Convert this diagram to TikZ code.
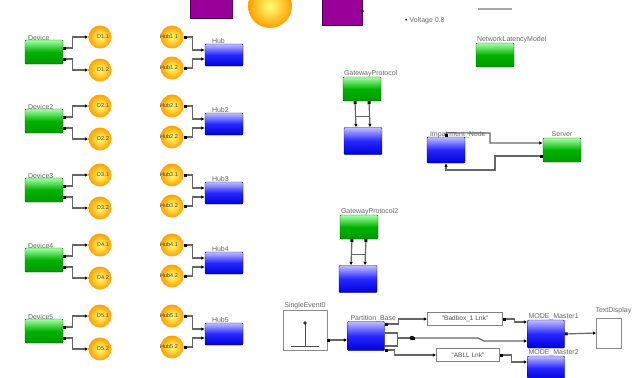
\documentclass[tikz,border=0pt]{standalone}
\usepackage{fontspec}
\setmainfont{Liberation Sans}
\usetikzlibrary{arrows.meta,positioning}
\tikzset{
  greenblk/.style={draw=green!35!black, rounded corners=1pt, top color=green!35!white, bottom color=green!60!black, middle color=green!70!black, minimum width=38pt, minimum height=24pt, inner sep=0pt},
  blueblk/.style={draw=blue!45!black, rounded corners=1pt, top color=blue!25!white, bottom color=blue!85!black, middle color=blue!85, minimum width=38pt, minimum height=22pt, inner sep=0pt},
  purpblk/.style={draw=violet!60!black, fill=violet!80!magenta, inner sep=0pt},
  ballnode/.style={circle, minimum size=23pt, inner sep=0pt, shading=radial, inner color=yellow!55!white, outer color=orange!75!yellow, draw=none},
  whitebox/.style={draw=black!45, fill=white, inner sep=0pt},
  strbox/.style={draw=black!50, fill=white, minimum height=13pt, inner sep=1pt, font=\fontsize{6.5}{7}\selectfont, text=black!70},
  lbl/.style={font=\fontsize{7}{8}\selectfont, text=black!60, inner sep=1pt},
  blbl/.style={font=\fontsize{5.5}{6}\selectfont, text=black!75, inner sep=0pt},
  wire/.style={draw=black!60, line width=1.2pt, {Square[length=3pt,width=3pt,black]}-{Latex[length=3.5pt,width=3.5pt,black]}},
  bar/.style={draw=black!60, line width=1.2pt}
}
\begin{document}
\begin{tikzpicture}[x=1pt, y=-1pt]
  \clip (0,0) rectangle (641,378);
  \fill[white] (0,0) rectangle (641,378);

  % 1. top edge, cut off
  \node[purpblk, minimum width=42pt, minimum height=22pt] (pu1) at (211,7) {};
  \node[ballnode, minimum size=44pt] (yb) at (270,6) {};
  \node[purpblk, minimum width=40pt, minimum height=28pt] (pu2) at (342,11) {};
  \fill[black] (pu2.east) circle (1.8pt);
  \node[lbl, anchor=west] (volt) at (404,21) {\textcolor{blue!60!black}{\textbullet}\ Voltage 0.8};
  \draw[black!35, line width=1.5pt] (478,9) -- (512,9);

  % 2. devices, yellow ports and hubs
  \foreach \i/\yc/\nm/\hn in {1/52/Device/Hub, 2/121/Device2/Hub2, 3/190/Device3/Hub3, 4/260/Device4/Hub4, 5/331/Device5/Hub5}{
    \node[greenblk] (dev\i) at (44,\yc) {};
    \node[lbl, anchor=south west] (devl\i) at ([xshift=2pt,yshift=-2pt]dev\i.north west) {\nm};
    \node[ballnode] (dIn\i) at (100,\yc-15) {};
    \node[ballnode] (dOut\i) at (100,\yc+18) {};
    \node[blbl, anchor=west] (dInl\i) at ([xshift=-3pt]dIn\i.center) {D\i.1};
    \node[blbl, anchor=west] (dOutl\i) at ([xshift=-3pt]dOut\i.center) {D\i.2};
    \draw[wire] ([yshift=4pt]dev\i.east) -- ++(9,0) |- (dIn\i.west);
    \draw[wire] ([yshift=-7pt]dev\i.east) -- ++(9,0) |- (dOut\i.west);

    \node[ballnode] (hIn\i) at (172,\yc-15) {};
    \node[ballnode] (hOut\i) at (172,\yc+16) {};
    \node[blbl] (hInl\i) at ([xshift=-3pt]hIn\i.center) {Hub\i.1};
    \node[blbl] (hOutl\i) at ([xshift=-3pt]hOut\i.center) {Hub\i.2};
    \node[blueblk] (hub\i) at (224,\yc+3) {};
    \node[lbl, anchor=south west] (hubl\i) at ([xshift=6pt,yshift=-1pt]hub\i.north west) {\hn};
    \draw[wire] (hIn\i.east) -- ++(9,0) |- ([yshift=5pt]hub\i.west);
    \draw[wire] (hOut\i.east) -- ++(9,0) |- ([yshift=-4pt]hub\i.west);
  }

  % 3. gateways
  \node[greenblk] (gw) at (362,89) {};
  \node[lbl, anchor=south west] (gwl) at ([yshift=-1pt]gw.north west) {GatewayProtocol};
  \node[blueblk, minimum height=27pt] (gwb) at (363,141) {};
  \draw[wire] ([xshift=-7pt]gw.south) -- ([xshift=-7pt]gwb.north);
  \draw[wire] ([xshift=7pt]gw.south) -- ([xshift=7pt]gwb.north);
  \draw[bar] ([xshift=-7pt,yshift=-15pt]gw.south) -- ++(14,0);

  \node[greenblk] (gw2) at (359,227) {};
  \node[lbl, anchor=south west] (gwl2) at ([yshift=-1pt]gw2.north west) {GatewayProtocol2};
  \node[blueblk, minimum height=27pt] (gwb2) at (358,279) {};
  \draw[wire] ([xshift=-7pt]gw2.south) -- ([xshift=-7pt]gwb2.north);
  \draw[wire] ([xshift=7pt]gw2.south) -- ([xshift=7pt]gwb2.north);
  \draw[bar] ([xshift=-7pt,yshift=-15pt]gw2.south) -- ++(14,0);

  % 4. latency model, impairment and server
  \node[greenblk] (nlm) at (495,55) {};
  \node[lbl, anchor=south west] (nlml) at ([yshift=-1pt]nlm.north west) {NetworkLatencyModel};
  \node[blueblk, minimum height=26pt] (imp) at (446,150) {};
  \node[lbl, anchor=south west] (impl) at ([xshift=2pt,yshift=-2pt]imp.north west) {Impairment\_Node};
  \node[greenblk] (srv) at (562,150) {};
  \node[lbl, anchor=south] (srvl) at (srv.north) {Server};
  \draw[wire] (imp.north) -- ++(0,-4) -- (490,133) -- (490,143) -- ([yshift=7pt]srv.west);
  \draw[wire] ([yshift=-6pt]srv.west) -- (495,156) -- (495,170) -- (446,170) -- (imp.south);

  % 5. event chain at the bottom
  \node[whitebox, minimum width=44pt, minimum height=40pt] (evt) at (305,330) {};
  \node[lbl, anchor=south] (evtl) at (evt.north) {SingleEvent0};
  \draw[black!70] (291,346) -- (319,346);
  \draw[black!70] (305,346) -- (305,323);
  \fill[black!80] (305,323) circle (1.8pt);
  \node[blueblk, minimum width=37pt, minimum height=29pt] (part) at (366,336) {};
  \node[lbl, anchor=south west] (partl) at ([xshift=2pt,yshift=-2pt]part.north west) {Partition\_Base};
  \draw[wire] ([yshift=-10pt]evt.east) -- ([yshift=-4pt]part.west);

  \node[strbox, minimum width=75pt] (s1) at (465,319) {"Badbox\_1 Lnk"};
  \node[strbox, minimum width=63pt] (s2) at (468,355) {"ABLL Lnk"};
  \node[blueblk, minimum width=37pt, minimum height=28pt] (mm1) at (546,334) {};
  \node[lbl, anchor=south west] (mml1) at ([xshift=0pt,yshift=-1pt]mm1.north west) {MODE\_Master1};
  \node[blueblk, minimum width=37pt, minimum height=24pt] (mm2) at (546,368) {};
  \node[lbl, anchor=south west] (mml2) at ([xshift=0pt,yshift=-1pt]mm2.north west) {MODE\_Master2};
  \node[whitebox, minimum width=25pt, minimum height=30pt] (td) at (609,333) {};
  \node[lbl, anchor=south west] (tdl) at ([xshift=-2pt,yshift=3pt]td.north west) {TextDisplay};

  \draw[wire] ([yshift=12pt]part.east) -- ++(14,0) |- (s1.west);
  \draw[wire] (s1.east) -- ++(12,0) |- ([yshift=12pt]mm1.west);
  \draw[bar] ([yshift=3pt]part.east) -- ++(13,0) coordinate (lp) |- ([yshift=-10pt]part.east);
  \coordinate (jn) at (412,338);
  \draw[bar] (lp |- jn) -- (jn);
  \fill[black] (jn) circle (2.2pt);
  \draw[wire] (jn) -- (478,338) -- (484,341) -- ([yshift=-7pt]mm1.west);
  \draw[wire] ([yshift=-14pt]part.east) -- ++(10,0) |- (s2.west);
  \draw[wire] (s2.east) -- ++(12,0) |- ([yshift=6pt]mm2.west);
  \draw[wire] (mm1.east) -- (td.west);
\end{tikzpicture}
\end{document}
